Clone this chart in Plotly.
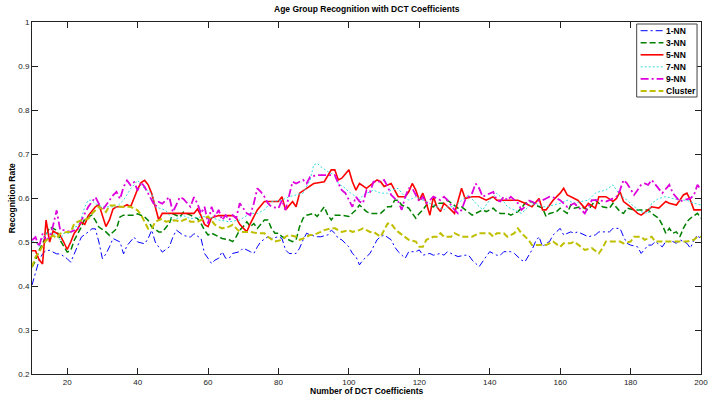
import plotly.graph_objects as go

# ---------------- data ----------------
nn1_x = [10,11,12,13,14,15,17,18,20,21, 22,23,24,26,27,28,29,30,31,32, 33,35,36,37,39,40,42,43,44,45, 46,47,49,50,51,53,55,56,58,
         59,60,61,62,63,64,65,66,67,69, 70,72,73,74,75,77,78,80,81,82, 83,85,86,87,88,89,91,92,94,95, 96,97,98,100,101,102,103,104,106,
         108,109,110,112,113,114,116,117,119,120, 121,123,124,126,127,128,130,131,133,134, 135,136,137,139,140,142,143,144,146,147, 149,150,151,152,153,154,
         155,156,157,158,160,161,163,164,165,167, 168,170,171,172,174,175,177,178,179,180, 182,183,185,186,187,189,190,192,193,194, 196,197,198,199,200]
nn1_y = [0.402,0.432,0.458,0.473,0.481,0.481,0.473,0.473,0.462,0.454, 0.473,0.496,0.511,0.523,0.53,0.53,0.5,0.462,0.473,0.489,
         0.508,0.5,0.473,0.492,0.511,0.5,0.496,0.508,0.527,0.5, 0.489,0.477,0.489,0.511,0.527,0.515,0.511,0.519,0.508,
         0.474,0.463,0.451,0.459,0.463,0.478,0.463,0.463,0.474,0.478, 0.486,0.478,0.474,0.489,0.501,0.512,0.508,0.512,0.508,0.482,
         0.474,0.474,0.486,0.505,0.52,0.516,0.512,0.512,0.516,0.527, 0.52,0.508,0.505,0.489,0.474,0.467,0.448,0.459,0.474,
         0.505,0.512,0.516,0.505,0.489,0.478,0.463,0.478,0.478,0.482, 0.47,0.474,0.47,0.474,0.47,0.478,0.47,0.467,0.47,0.47,
         0.459,0.451,0.444,0.467,0.478,0.47,0.47,0.478,0.478,0.474, 0.459,0.455,0.467,0.482,0.501,0.512,
         0.489,0.497,0.501,0.516,0.531,0.516,0.523,0.52,0.523,0.516, 0.512,0.516,0.523,0.523,0.523,0.531,0.531,0.512,0.497,0.493,
         0.489,0.474,0.493,0.493,0.501,0.489,0.501,0.501,0.497,0.505, 0.497,0.486,0.505,0.516,0.505]

nn3_x = [10,11,12,13,14,15,17,18,20,21,22,24,25,27,28,29,31,32,34,35,36,39,40,42,43,44,46,47,49,50,52,53,55,57,
         58,59,60,61,63,64,66,67,68,69, 70,71,72,73,74,76,77,78,79,80, 81,83,84,85,86,87,88,90,91,92, 93,94,95,96,97,98,100,101,102,103, 104,105,106,
         108,109,111,112,113,114,115,117,118,119, 120,121,122,124,125,127,128,130,131,132, 133,135,136,138,139,141,142,143,145,146, 148,149,150,152,153,155,
         156,157,159,160,162,163,164,166,168,170, 171,172,174,175,177,178,179,181,183,185, 186,188,189,190,191,192,193,194,195,196, 197,199,200]
nn3_y = [0.443,0.458,0.481,0.496,0.515,0.534,0.527,0.504,0.477,0.481,0.504,0.534,0.553,0.561,0.549,0.534,0.523,0.515,0.53,0.557,
         0.561,0.561,0.564,0.557,0.549,0.534,0.523,0.523,0.542,0.564,0.557,0.568,0.561,0.553,
         0.542,0.527,0.516,0.52,0.512,0.508,0.505,0.501,0.512,0.527, 0.535,0.546,0.535,0.542,0.531,0.55,0.55,0.531,0.52,0.52,
         0.512,0.505,0.501,0.505,0.535,0.554,0.561,0.565,0.558,0.569, 0.58,0.561,0.55,0.561,0.561,0.561,0.558,0.565,0.573,0.584, 0.577,0.569,0.565,
         0.565,0.565,0.58,0.58,0.595,0.595,0.584,0.577,0.565,0.554, 0.565,0.573,0.584,0.58,0.588,0.588,0.595,0.584,0.577,0.58,
         0.573,0.561,0.565,0.573,0.569,0.577,0.569,0.565,0.565,0.561, 0.569,0.577,0.588,0.592,0.584,0.577,
         0.558,0.565,0.569,0.577,0.565,0.584,0.577,0.58,0.573,0.595, 0.588,0.58,0.577,0.588,0.569,0.565,0.577,0.573,0.573,0.573,
         0.565,0.554,0.539,0.52,0.531,0.52,0.523,0.512,0.531,0.546, 0.554,0.565,0.554]

nn5_x = [10,11,12,13,14,15,16,17,18,19, 20,21,22,23,24,25,26,27,28,29, 30,31,32,33,34,35,36,37,38,39, 40,41,42,43,44,45,46,47,48,
         50,52,54,56,57,58,59,60,61, 63,65,67,68,69,71,72,74,76, 80,81,82,84,85,86,88,90,93, 95,96,97,98,100,101,102,103,105,
         108,109,110,112,113,114,116,117,118,119,120,121,122,123,124,125,126,127,
         129,130,132,133,135,137,139,141,142,144,146,148,150,152,154,
         155,156,158,160,161,162,163,164,165,167,168,170,171,173,175,176,177,178,
         180,182,183,185,186,188,190,191,193,194,195,196,197,198,200]
nn5_y = [0.48,0.48,0.46,0.45,0.55,0.50,0.525,0.52,0.515,0.50, 0.483,0.50,0.52,0.53,0.545,0.54,0.56,0.57,0.58,0.585,
         0.56,0.535,0.55,0.575,0.58,0.58,0.58,0.585,0.58,0.60, 0.62,0.635,0.64,0.63,0.61,0.58,0.55,0.565,0.565,
         0.565,0.565,0.565,0.565,0.575,0.56,0.54,0.535,0.555, 0.56,0.56,0.56,0.555,0.54,0.523,0.542,0.573,0.592,
         0.592,0.603,0.573,0.592,0.58,0.611,0.622,0.633,0.637, 0.664,0.664,0.641,0.645,0.664,0.637,0.618,0.633,0.622,
         0.641,0.637,0.626,0.633,0.618,0.603,0.603,0.614,0.633,0.618,0.595,0.611,0.588,0.561,0.603,0.58,0.569,0.588,
         0.573,0.565,0.622,0.599,0.603,0.603,0.595,0.603,0.595,0.595,0.595,0.595,0.588,0.58,0.599,
         0.573,0.573,0.595,0.611,0.622,0.607,0.603,0.599,0.595,0.577,0.588,0.577,0.603,0.603,0.592,0.599,0.614,0.592,
         0.58,0.565,0.561,0.573,0.58,0.577,0.592,0.588,0.584,0.595,0.607,0.611,0.595,0.573,0.573]

nn7_x = [10,11,12,13,14,15,16,17,18,19,20,21,22,23,24,25,26,27,28,30,32,34,36,38,40,42,44,45,48,50,53,55,58,
         60,63,66,69,72,74,76,78,80,81,83,85,87,89,90,91,92,94,96,97,99,100,102,103,104,106,
         107,109,111,112,114,115,117,119,121,123,125,127,128,130,132,134,136,138,140,142,143,145,147,149,151,153,
         155,156,158,160,162,164,166,168,170,171,173,175,176,177,179,181,183,185,186,188,190,192,194,196,198,200]
nn7_y = [0.50,0.50,0.49,0.51,0.52,0.52,0.52,0.515,0.505,0.52,0.52,0.52,0.535,0.535,0.553,0.58,0.595,0.595,0.587,
         0.58,0.58,0.58,0.595,0.621,0.64,0.621,0.61,0.58,0.572,0.549,0.56,0.553,0.557,
         0.558,0.55,0.546,0.55,0.565,0.565,0.573,0.592,0.595,0.595,0.603,0.607,0.611,0.641,0.675,0.679,0.671,0.66,0.652,0.633,0.622,0.614,0.603,0.595,0.607,0.614,
         0.618,0.611,0.611,0.618,0.622,0.611,0.595,0.603,0.595,0.588,0.58,0.573,0.58,0.58,0.595,0.607,0.588,0.573,0.595,0.611,0.603,0.58,0.573,0.565,0.58,0.588,
         0.58,0.58,0.584,0.588,0.595,0.588,0.592,0.595,0.611,0.614,0.618,0.63,0.618,0.607,0.595,0.58,0.569,0.565,0.588,0.599,0.603,0.599,0.595,0.595,0.588,0.584]

nn9_x = [10,11,12,13,14,15,16,17,18,19,21,23,24,26,28,29,30,33,34,35,36,37,38,39,40,41,42,44,45,46,47,49,50,52,53,55,56,57,
         58,59,60,61,62,63,64,65,66,67,68,69,70,71,72,73,74,75,76,77,78,
         80,81,82,84,85,86,87,88,89,91,93,95,96,97,98,99,100,101,102,103,104,105,106,
         107,109,110,111,112,113,114,115,116,117,118,119,120,121,122,123,124,
         126,127,128,130,131,132,133,134,135,136,137,138,
         140,141,142,143,144,145,146,148,149,150,151,153,154,
         155,156,157,159,160,162,163,164,166,167,168,169,171,173,174,176,177,178,179,
         181,182,183,184,185,186,188,189,191,192,194,195,197,198,199,200]
nn9_y = [0.504,0.511,0.489,0.519,0.504,0.511,0.538,0.572,0.527,0.527,0.523,0.53,0.549,0.58,0.602,0.587,0.572,
         0.606,0.614,0.598,0.625,0.64,0.629,0.636,0.617,0.636,0.625,0.595,0.58,0.591,0.587,0.602,0.568,0.602,0.598,0.58,0.602,0.587,
         0.565,0.58,0.542,0.58,0.558,0.573,0.55,0.561,0.55,0.561,0.554,0.588,0.577,0.565,0.561,0.588,0.622,0.614,0.603,0.588,0.58,
         0.577,0.595,0.573,0.637,0.633,0.637,0.641,0.633,0.648,0.652,0.652,0.652,0.652,0.633,0.618,0.611,0.595,0.58,0.603,0.592,0.588,0.618,0.614,
         0.637,0.637,0.641,0.626,0.607,0.599,0.592,0.573,0.603,0.622,0.622,0.607,0.592,0.603,0.588,0.595,0.603,
         0.595,0.603,0.595,0.573,0.565,0.573,0.595,0.603,0.611,0.633,0.622,0.603,
         0.611,0.614,0.595,0.592,0.603,0.595,0.603,0.588,0.573,0.58,0.595,0.588,0.595,
         0.595,0.599,0.603,0.599,0.595,0.58,0.584,0.588,0.573,0.565,0.58,0.595,0.595,0.592,0.595,0.603,0.618,0.641,0.633,
         0.607,0.618,0.63,0.633,0.63,0.641,0.622,0.611,0.63,0.611,0.592,0.595,0.599,0.607,0.63,0.618]

cl_x = [10,11,12,13,14,16,17,18,20,21,22,23,24,26,27,28,29,31,32,34,35,38,40,41,43,44,45,47,48,50,51,52,54,55,57,
        58,60,62,64,66,67,68,69,71,72,74,76,77,79,81,82,83,85,86,87,89,90,92,93,95,96,98,100,101,103,104,106,
        107,109,110,111,112,113,114,116,117,119,120,121,122,124,125,126,127,129,130,132,133,135,137,138,140,141,142,144,145,147,148,149,150,151,152,154,
        155,156,158,160,161,163,164,166,167,169,171,172,173,175,177,178,180,181,183,184,186,187,188,190,192,194,196,198,199,200]
cl_y = [0.443,0.466,0.477,0.492,0.504,0.515,0.508,0.519,0.523,0.523,0.542,0.546,0.549,0.553,0.564,0.572,0.58,0.568,0.583,0.583,
        0.58,0.58,0.572,0.561,0.53,0.53,0.546,0.553,0.546,0.549,0.549,0.546,0.553,0.546,0.546,
        0.55,0.558,0.539,0.531,0.535,0.539,0.531,0.523,0.523,0.523,0.52,0.52,0.512,0.501,0.505,0.512,0.516,0.512,0.505,0.508,
        0.516,0.516,0.523,0.527,0.531,0.531,0.523,0.527,0.523,0.527,0.531,0.523,
        0.523,0.512,0.527,0.542,0.542,0.531,0.523,0.512,0.505,0.501,0.489,0.489,0.505,0.512,0.512,0.52,0.512,0.512,0.52,0.512,
        0.512,0.512,0.52,0.52,0.52,0.512,0.52,0.52,0.512,0.52,0.531,0.52,0.512,0.505,0.493,0.493,
        0.493,0.493,0.501,0.489,0.497,0.497,0.501,0.489,0.482,0.486,0.474,0.486,0.501,0.501,0.501,0.497,0.501,0.512,0.512,0.505,
        0.512,0.501,0.501,0.501,0.501,0.501,0.501,0.505,0.512,0.512]

series_names = ["1-NN", "3-NN", "5-NN", "7-NN", "9-NN", "Cluster"]
x_ticks = [20, 40, 60, 80, 100, 120, 140, 160, 180, 200]
y_ticks = [0.2, 0.3, 0.4, 0.5, 0.6, 0.7, 0.8, 0.9, 1.0]
y_tick_labels = ["0.2", "0.3", "0.4", "0.5", "0.6", "0.7", "0.8", "0.9", "1"]

# ---------------- styling ----------------
W, H = 720, 401
L, R, T, B = 32, 12, 22, 27
styles = [
    dict(color="#0000FF", width=1.0, dash="7px,3px,2px,3px"),
    dict(color="#008000", width=1.5, dash="6px,3px"),
    dict(color="#FF0000", width=1.6, dash="solid"),
    dict(color="#33DDDD", width=1.0, dash="2px,2px"),
    dict(color="#DD00DD", width=1.8, dash="8px,3px,2px,3px"),
    dict(color="#BFBF00", width=2.0, dash="6px,3px"),
]
FONT = "Liberation Sans, Arial, sans-serif"

fig = go.Figure()
for (xs, ys), name, st in zip(
        [(nn1_x, nn1_y), (nn3_x, nn3_y), (nn5_x, nn5_y), (nn7_x, nn7_y), (nn9_x, nn9_y), (cl_x, cl_y)],
        series_names, styles):
    assert len(xs) == len(ys), name
    fig.add_trace(go.Scatter(x=xs, y=ys, mode="lines", name=name, line=st, showlegend=False, hoverinfo="skip"))

def px_x(p):  # pixel -> paper
    return (p - L) / (W - L - R)

def px_y(p):
    return (H - B - p) / (H - T - B)

shapes = []
annotations = []
# legend box
shapes.append(dict(type="rect", xref="paper", yref="paper", x0=px_x(643), x1=px_x(704), y0=px_y(97), y1=px_y(24),
                   line=dict(color="#444444", width=1), fillcolor="white", layer="above"))
for i, (name, st) in enumerate(zip(series_names, styles)):
    yc = 30.7 + i * 12.05
    shapes.append(dict(type="line", xref="paper", yref="paper", x0=px_x(647), x1=px_x(670), y0=px_y(yc), y1=px_y(yc),
                       line=st, layer="above"))
    annotations.append(dict(text="<b>%s</b>" % name, xref="paper", yref="paper", x=px_x(670.5), y=px_y(yc),
                            xanchor="left", yanchor="middle", showarrow=False,
                            font=dict(family=FONT, size=8.5, color="black")))

annotations.append(dict(text="<b>Age Group Recognition with DCT Coefficients</b>", xref="paper", yref="paper",
                        x=0.5, y=px_y(9), xanchor="center", yanchor="middle", showarrow=False,
                        font=dict(family=FONT, size=8.5, color="black")))
annotations.append(dict(text="<b>Number of DCT Coefficients</b>", xref="paper", yref="paper",
                        x=0.5, y=px_y(391), xanchor="center", yanchor="middle", showarrow=False,
                        font=dict(family=FONT, size=8.5, color="black")))
annotations.append(dict(text="<b>Recognition Rate</b>", xref="paper", yref="paper", textangle=-90,
                        x=px_x(12), y=0.5, xanchor="center", yanchor="middle", showarrow=False,
                        font=dict(family=FONT, size=8.5, color="black")))

axis_common = dict(showline=True, linecolor="#222222", linewidth=1, mirror="ticks", ticks="inside",
                   ticklen=6, tickcolor="#222222", tickwidth=1, showgrid=False, zeroline=False,
                   tickfont=dict(family=FONT, size=8, color="#222222"))

fig.update_layout(
    width=W, height=H,
    margin=dict(l=L, r=R, t=T, b=B, pad=0),
    paper_bgcolor="white", plot_bgcolor="white",
    showlegend=False, hovermode=False,
    xaxis=dict(range=[10, 200], tickvals=x_ticks, ticktext=[str(v) for v in x_ticks], **axis_common),
    yaxis=dict(range=[0.2, 1.0], tickvals=y_ticks, ticktext=y_tick_labels, **axis_common),
    shapes=shapes, annotations=annotations,
)

fig.write_html("out.html", config={"displayModeBar": False, "staticPlot": True},
               post_script="document.body.style.margin='0';document.body.style.padding='0';")
